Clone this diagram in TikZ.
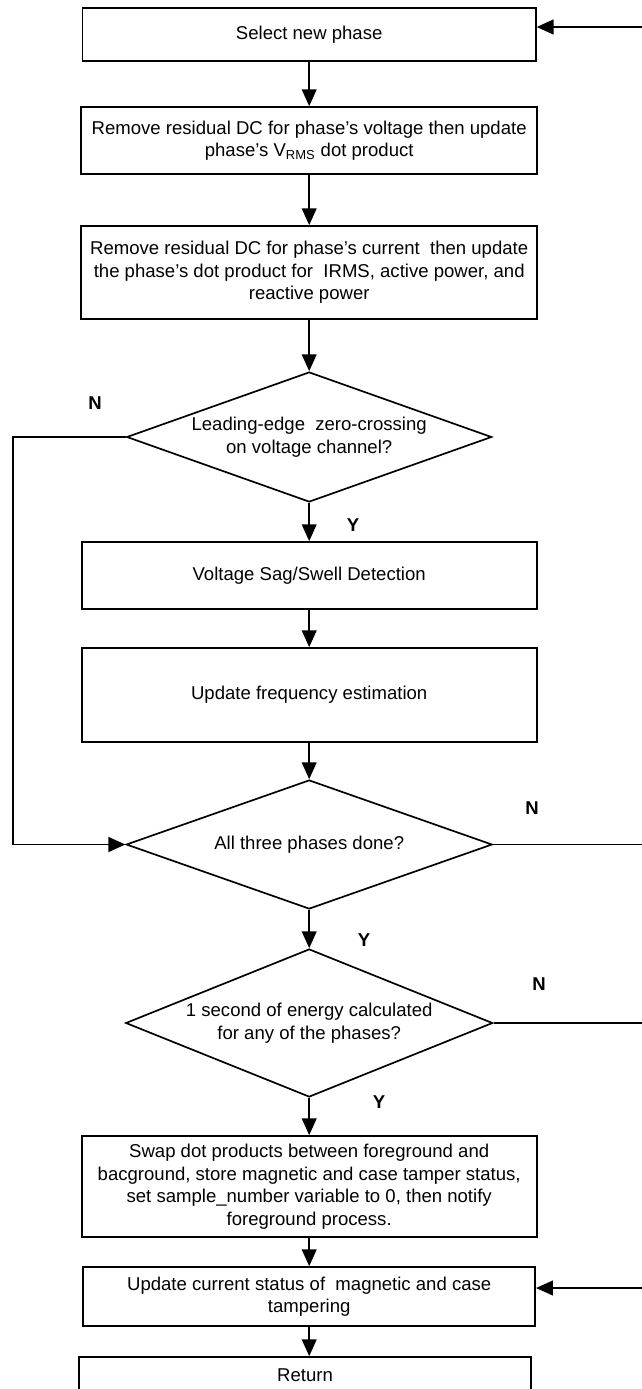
\documentclass[tikz,border=0pt]{standalone}
\usepackage{fontspec}
\setmainfont{Liberation Sans}
\usetikzlibrary{arrows.meta,shapes.geometric}

\begin{document}
\begin{tikzpicture}[
		procbox/.style={draw,line width=1.2pt,align=center,inner sep=0pt},
		decide/.style={draw,diamond,line width=1.2pt,align=center,inner sep=0pt,aspect=2.8},
		flow/.style={line width=1.2pt,-{Triangle[length=12pt,width=10.5pt]}},
		wire/.style={line width=1.2pt},
		yn/.style={font=\fontsize{13.2}{16}\selectfont\bfseries},
		every node/.append style={font=\fontsize{13.2}{16}\selectfont}
	]
			%%%%% FRAME %%%%%
			\def\W{16.05}
			\def\H{34.725}
			\def\xc{7.73}
			\def\xl{0.325}
			\useasboundingbox (0,0) rectangle (\W,-\H);
			\clip (0,0) rectangle (\W,-\H);
			
			%%%%% STEPS %%%%%
			\node[procbox,minimum width=11.33cm,minimum height=1.325cm] (sel) at (\xc,-0.8625) {Select new phase};
			\node[procbox,minimum width=11.4cm,minimum height=1.675cm] (dcv) at (\xc,-3.5125) {Remove residual DC for phase's voltage then update\\phase's V\textsubscript{RMS} dot product};
			\node[procbox,minimum width=11.4cm,minimum height=2.325cm] (dci) at (\xc,-6.8125) {Remove residual DC for phase's current\ \ then update\\the phase's dot product for\ \ IRMS, active power, and\\reactive power};
			\node[decide,minimum width=9.125cm,minimum height=3.25cm] (zc) at (\xc,-10.925) {Leading-edge\ \ zero-crossing\\on voltage channel?};
			\node[procbox,minimum width=11.375cm,minimum height=1.675cm] (sag) at (\xc,-14.3875) {Voltage Sag/Swell Detection};
			\node[procbox,minimum width=11.375cm,minimum height=2.35cm] (freq) at (\xc,-17.375) {Update frequency estimation};
			\node[decide,minimum width=9.15cm,minimum height=3.225cm] (done) at (\xc,-21.1125) {All three phases done?};
			\node[decide,minimum width=9.175cm,minimum height=3.7cm] (sec) at (\xc,-25.575) {1 second of energy calculated\\for any of the phases?};
			\node[procbox,minimum width=11.375cm,minimum height=2.525cm] (swap) at (\xc,-29.6625) {Swap dot products between foreground and\\bacground, store magnetic and case tamper status,\\set sample\_number variable to 0, then notify\\foreground process.};
			\node[procbox,minimum width=11.3cm,minimum height=1.475cm] (tamp) at (\xc,-32.4125) {Update current status of\ \ magnetic and case\\tampering};
			\node[procbox,minimum width=11.3cm,minimum height=0.9cm] (ret) at (7.625,-34.375) {Return};
			
			%%%%% LOOP ENDS %%%%%
			\coordinate (intop) at (\W,-0.675);
			\coordinate (intamp) at (\W,-32.2);
			\coordinate (outdone) at (\W,-21.1125);
			\coordinate (outsec) at (\W,-25.575);
			\coordinate (lft) at (\xl,-21.1125);
			
			\draw[flow] (sel.south) -- (dcv.north);
			\draw[flow] (dcv.south) -- (dci.north);
			\draw[flow] (dci.south) -- (zc.north);
			\draw[flow] (zc.south) -- (sag.north);
			\draw[flow] (sag.south) -- (freq.north);
			\draw[flow] (freq.south) -- (done.north);
			\draw[flow] (done.south) -- (sec.north);
			\draw[flow] (sec.south) -- (swap.north);
			\draw[flow] (swap.south) -- (tamp.north);
			\draw[flow] (tamp.south) -- (tamp.south |- ret.north);
			
			\draw[flow] (zc.west) -| (lft) -- (done.west);
			\draw[wire] (done.east) -- (outdone);
			\draw[wire] (sec.east) -- (outsec);
			\draw[flow] (intop) -- (intop -| sel.east);
			\draw[flow] (intamp) -- (intamp -| tamp.east);
			
			%%%%% LABELS %%%%%
			\node[yn] (n1) at (2.375,-10.075) {N};
			\node[yn] (y1) at (8.825,-13.125) {Y};
			\node[yn] (n2) at (13.3,-20.2) {N};
			\node[yn] (y2) at (9.1,-23.5) {Y};
			\node[yn] (n3) at (13.475,-24.6) {N};
			\node[yn] (y3) at (9.475,-27.55) {Y};
\end{tikzpicture}
\end{document}
